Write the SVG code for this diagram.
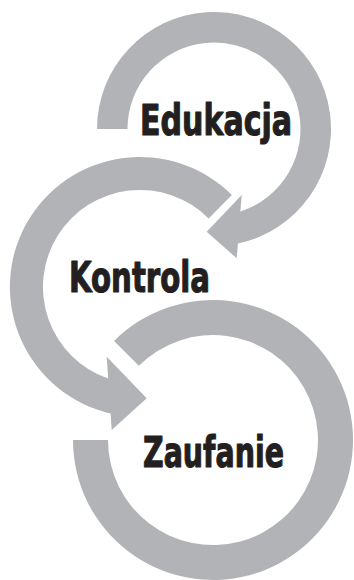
<svg xmlns="http://www.w3.org/2000/svg" width="354" height="580" viewBox="0 0 354 580">
<style>
.ring{fill:#b1b3b6;stroke:none}
.label{font-family:"Liberation Sans Narrow","DejaVu Sans Condensed","Liberation Sans",sans-serif;font-weight:700;font-size:43px;fill:#231f20;stroke:#231f20;stroke-width:1.1px;stroke-linejoin:round}
</style>
<rect width="354" height="580" fill="#ffffff"/>
<g id="edukacja">
<path class="ring" d="M 97 129 A 117 117 0 1 1 237.9 243.5 L 236.7 258.3 L 206.7 231.7 L 241.7 195 L 240.4 211.4 A 86.5 86.5 0 1 0 127.5 129 Z"/>
<text class="label" x="140" y="135" textLength="152" lengthAdjust="spacingAndGlyphs">Edukacja</text>
</g>
<g id="kontrola">
<path class="ring" d="M 231.9 195.1 A 130 130 0 1 0 110.6 413.6 L 111.7 430 L 146.7 398.3 L 106.7 356.7 L 108.2 378.6 A 97 97 0 1 1 208.6 218.4 Z"/>
<text class="label" x="69" y="291.5" textLength="141" lengthAdjust="spacingAndGlyphs">Kontrola</text>
</g>
<g id="zaufanie">
<path class="ring" d="M 73 440 A 140 140 0 1 0 114 341 L 138.8 365.8 A 105 105 0 1 1 108 440 Z"/>
<text class="label" x="143" y="466.5" textLength="141" lengthAdjust="spacingAndGlyphs">Zaufanie</text>
</g>
</svg>
